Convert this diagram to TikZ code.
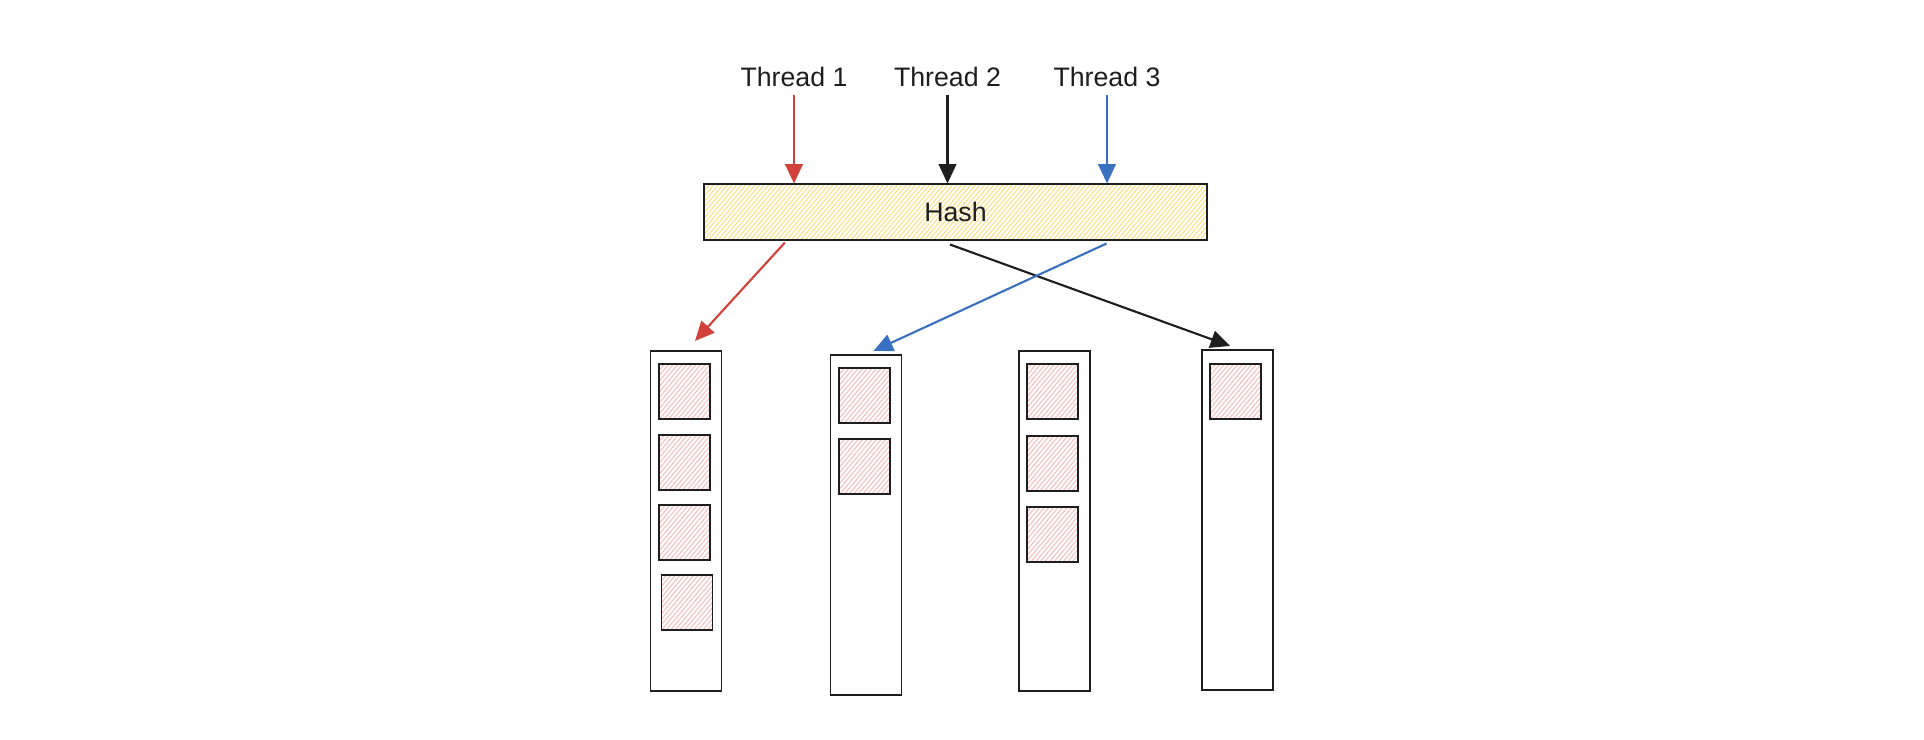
\documentclass[tikz,border=0pt]{standalone}
\usepackage{fontspec}
\setmainfont{Liberation Sans}
\usetikzlibrary{arrows.meta,patterns.meta,positioning}

\definecolor{ink}{RGB}{30,30,30}
\definecolor{inkred}{RGB}{208,66,58}
\definecolor{inkblue}{RGB}{58,112,192}
\definecolor{hatchyellow}{RGB}{252,222,120}
\definecolor{hatchred}{RGB}{248,185,185}

\tikzset{
  label text/.style={font=\fontsize{7.6}{9}\selectfont,text=ink,inner sep=2pt},
  hashbox/.style={draw=ink,line width=0.55pt,minimum width=5.03cm,minimum height=0.56cm,inner sep=0pt,
    pattern={Lines[angle=50,distance=1pt,line width=0.28pt]},pattern color=hatchyellow},
  bucket/.style={draw=ink,line width=0.55pt,minimum width=0.71cm,minimum height=3.4cm,inner sep=0pt},
  slot/.style={draw=ink,line width=0.55pt,minimum width=0.51cm,minimum height=0.55cm,inner sep=0pt,
    pattern={Lines[angle=50,distance=1pt,line width=0.28pt]},pattern color=hatchred},
  flow/.style={line width=0.6pt,-{Triangle[length=5.5pt,width=5pt]}},
}

\begin{document}
\begin{tikzpicture}[x=0.01cm,y=-0.01cm]
\useasboundingbox (0,0) rectangle (1924,740);

% threads
\node[label text] (t1) at (794,77) {Thread 1};
\node[label text] (t2) at (947.5,77) {Thread 2};
\node[label text] (t3) at (1107,77) {Thread 3};

% hash table
\node[hashbox] (hash) at (955.5,212) {};
\node[label text] (hashlbl) at (hash.center) {Hash};

% buckets
\node[bucket] (b1) at (686,521) {};
\node[bucket] (b2) at (866,525) {};
\node[bucket] (b3) at (1054.5,521) {};
\node[bucket] (b4) at (1237.5,520) {};

\foreach \y [count=\i] in {391.5,462.5,532.5} \node[slot] (s1\i) at (684.5,\y) {};
\node[slot] (s14) at (687,602.5) {};
\foreach \y [count=\i] in {395.5,466.5} \node[slot] (s2\i) at (864.5,\y) {};
\foreach \y [count=\i] in {391.5,463.5,534.5} \node[slot] (s3\i) at (1052.5,\y) {};
\node[slot] (s41) at (1235.5,391.5) {};

% threads into the hash
\draw[flow,inkred] (t1) -- (t1 |- hash.north);
\draw[flow,ink] (t2) -- (t2 |- hash.north);
\draw[flow,inkblue] (t3) -- (t3 |- hash.north);

% hash into the buckets
\draw[flow,inkred] ([xshift=-1.705cm,yshift=-0.02cm]hash.south) -- ([xshift=0.09cm,yshift=0.09cm]b1.north);
\draw[flow,ink] ([xshift=-0.055cm,yshift=-0.04cm]hash.south) -- ([xshift=-0.075cm,yshift=0.03cm]b4.north);
\draw[flow,inkblue] ([xshift=1.51cm,yshift=-0.03cm]hash.south) -- ([xshift=0.075cm,yshift=0.03cm]b2.north);
\end{tikzpicture}
\end{document}
